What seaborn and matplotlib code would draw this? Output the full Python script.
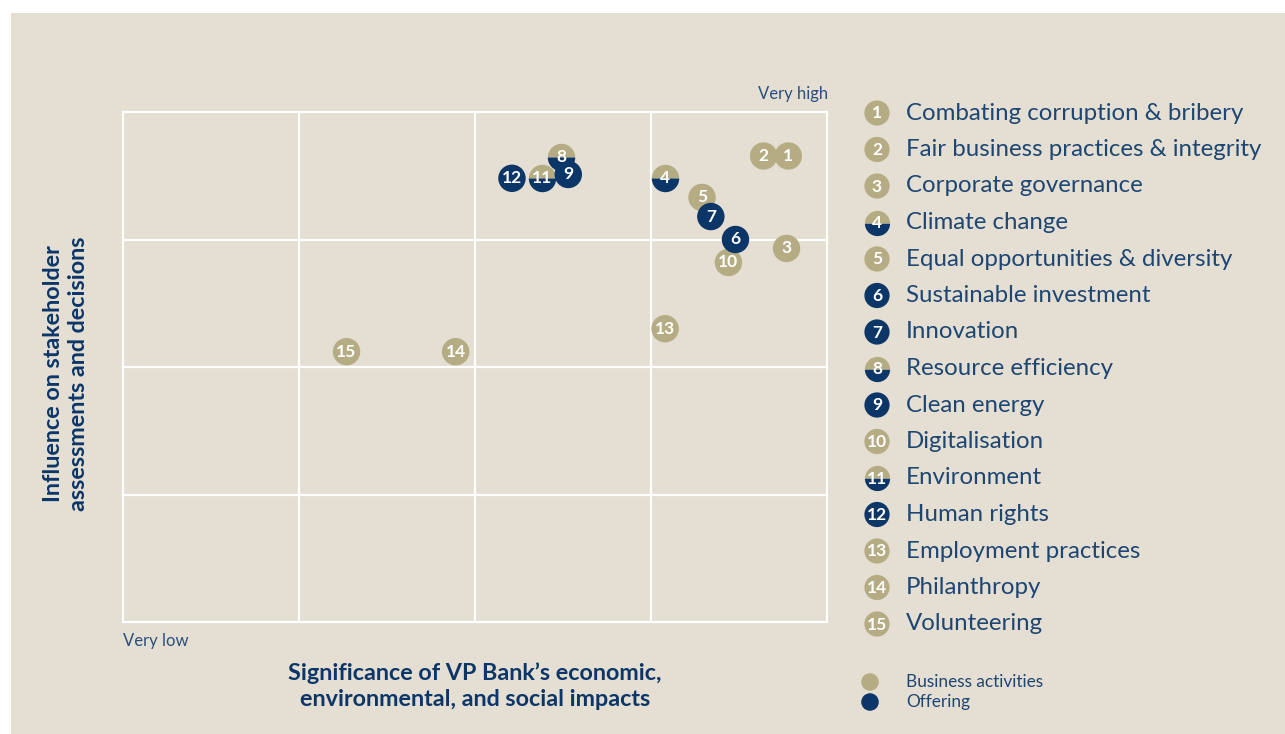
import matplotlib
matplotlib.use("Agg")
import matplotlib.pyplot as plt
from matplotlib.markers import MarkerStyle
from matplotlib.patches import Rectangle
import seaborn as sns
import pandas as pd

# ---------------- data ----------------
ids = [1, 2, 3, 4, 5, 6, 7, 8, 9, 10, 11, 12, 13, 14, 15]
labels = ["Combating corruption & bribery", "Fair business practices & integrity",
          "Corporate governance", "Climate change", "Equal opportunities & diversity",
          "Sustainable investment", "Innovation", "Resource efficiency", "Clean energy",
          "Digitalisation", "Environment", "Human rights", "Employment practices",
          "Philanthropy", "Volunteering"]
significance = [3.78, 3.64, 3.77, 3.08, 3.29, 3.48, 3.34, 2.49, 2.53, 3.44, 2.38, 2.21, 3.08, 1.89, 1.27]
influence = [3.655, 3.655, 2.93, 3.48, 3.33, 3.00, 3.18, 3.65, 3.51, 2.82, 3.48, 3.48, 2.30, 2.12, 2.12]
kind = ["business", "business", "business", "both", "business", "offering", "offering",
        "both", "offering", "business", "both", "offering", "business", "business", "business"]
legend_kinds = ["Business activities", "Offering"]

GOLD = "#b5ac84"
NAVY = "#0c3668"
BG = "#e5dfd3"
TXT = "#1d4673"
palette = {"business": GOLD, "offering": NAVY}

df = pd.DataFrame({"id": ids, "label": labels, "x": significance, "y": influence, "kind": kind})

sns.set_theme(style="white")
plt.rcParams["font.family"] = ["Lato", "DejaVu Sans"]

W, H = 1285, 734
fig = plt.figure(figsize=(W / 100, H / 100), dpi=100, facecolor="white")
fig.patches.append(Rectangle((11 / W, 0), 1 - 11 / W, 1 - 13 / H, transform=fig.transFigure,
                             facecolor=BG, edgecolor="none", zorder=-10))

def fx(px):
    return px / W

def fy(py):
    return 1 - py / H

ax = fig.add_axes([fx(123), fy(622), fx(827) - fx(123), fy(112) - fy(622)])
ax.set_facecolor(BG)
ax.set_xlim(0, 4)
ax.set_ylim(0, 4)
ax.set_xticks([1, 2, 3])
ax.set_yticks([1, 2, 3])
ax.tick_params(length=0, labelbottom=False, labelleft=False)
ax.grid(True, color="white", lw=1.6)
for s in ax.spines.values():
    s.set_color("white")
    s.set_linewidth(1.6)
ax.set_xlabel("")
ax.set_ylabel("")

S = 390
half = df[df.kind == "both"]
sns.scatterplot(data=half, x="x", y="y", marker=MarkerStyle("o", fillstyle="top"),
                color=GOLD, s=S, linewidth=0, ax=ax, legend=False, zorder=3)
sns.scatterplot(data=half, x="x", y="y", marker=MarkerStyle("o", fillstyle="bottom"),
                color=NAVY, s=S, linewidth=0, ax=ax, legend=False, zorder=3)
full = df[df.kind != "both"].copy()
full["order"] = full.kind.map({"business": 0, "offering": 1})
full = full.sort_values(["order", "id"], ascending=[True, False])
sns.scatterplot(data=full, x="x", y="y", hue="kind", palette=palette, s=S, linewidth=0,
                ax=ax, legend=False, zorder=4)
for _, r in df.iterrows():
    z = 5 if r.kind != "both" else 4.5
    ax.text(r.x, r.y, str(r.id), color="white", fontsize=12.5, fontweight="bold",
            ha="center", va="center", zorder=z)

# axis annotations
fig.text(fx(828), fy(94), "Very high", ha="right", va="center", color="#2b4f7c", fontsize=12)
fig.text(fx(123), fy(641), "Very low", ha="left", va="center", color="#2b4f7c", fontsize=12)
fig.text(fx(475), fy(686), "Significance of VP Bank\u2019s economic,\nenvironmental, and social impacts",
         ha="center", va="center", color=NAVY, fontsize=16.8, fontweight="bold", linespacing=1.25)
fig.text(fx(66), fy(374), "Influence on stakeholder\nassessments and decisions",
         ha="center", va="center", rotation=90, color=NAVY, fontsize=16.8, fontweight="bold",
         linespacing=1.25)

# right legend (numbered)
lax = fig.add_axes([0, 0, 1, 1], facecolor="none")
lax.set_xlim(0, W)
lax.set_ylim(H, 0)
lax.axis("off")
ly = [113 + i * (624 - 113) / 14 for i in range(15)]
leg = pd.DataFrame({"x": [877] * 15, "y": ly, "kind": kind, "id": ids, "label": labels})
lhalf = leg[leg.kind == "both"]
# y axis inverted here: "bottom" fill appears on top
sns.scatterplot(data=lhalf, x="x", y="y", marker=MarkerStyle("o", fillstyle="bottom"),
                color=NAVY, s=330, linewidth=0, ax=lax, legend=False)
sns.scatterplot(data=lhalf, x="x", y="y", marker=MarkerStyle("o", fillstyle="top"),
                color=GOLD, s=330, linewidth=0, ax=lax, legend=False)
lfull = leg[leg.kind != "both"]
sns.scatterplot(data=lfull, x="x", y="y", hue="kind", palette=palette, s=330, linewidth=0,
                ax=lax, legend=False)
for _, r in leg.iterrows():
    lax.text(r.x, r.y + 0.5, str(r.id), color="white", fontsize=12.5, fontweight="bold",
             ha="center", va="center")
    lax.text(906, r.y, r.label, color=TXT, fontsize=17.3, ha="left", va="center")

# kind legend
kdf = pd.DataFrame({"x": [870, 870], "y": [682, 702], "kind": ["business", "offering"],
                    "label": legend_kinds})
sns.scatterplot(data=kdf, x="x", y="y", hue="kind", palette=palette, s=160, linewidth=0,
                ax=lax, legend=False)
for _, r in kdf.iterrows():
    lax.text(906, r.y, r.label, color=TXT, fontsize=12.4, ha="left", va="center")

fig.savefig("out.png", dpi=100, facecolor="white")
